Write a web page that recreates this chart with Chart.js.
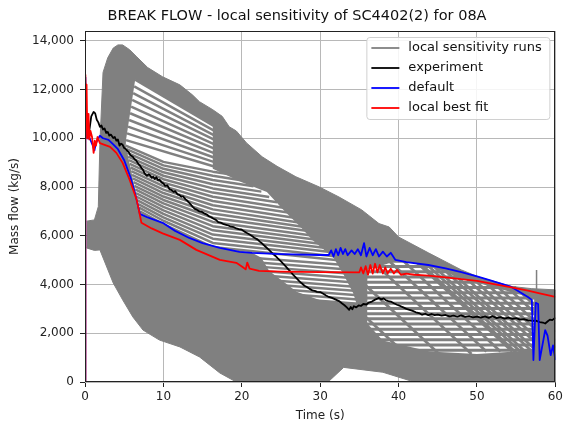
<!DOCTYPE html>
<html><head><meta charset="utf-8">
<script src="https://cdn.jsdelivr.net/npm/chart.js@4.4.0/dist/chart.umd.min.js"></script>
<style>html,body{margin:0;padding:0;background:#fff;}canvas{display:block;}</style>
</head><body>
<canvas id="c" width="566" height="430"></canvas>
<script>
// ---------- DATA ----------
const chartTitle = 'BREAK FLOW - local sensitivity of SC4402(2) for 08A';
const xTicks = [0, 10, 20, 30, 40, 50, 60];
const yTicks = [0, 2000, 4000, 6000, 8000, 10000, 12000, 14000];
const seriesNames = ['local sensitivity runs', 'experiment', 'default', 'local best fit'];

// envelope of the sensitivity runs (upper edge, then lower edge)
const runsUpper = [[0.2,6600],[1.2,6650],[1.7,7200],[1.9,9800],[2.3,12700],[2.9,13300],[3.6,13700],[4.2,13830],[4.8,13830],[5.7,13630],[6.6,13340],[8,12900],[9.9,12520],[12.1,12190],[13.7,11780],[14.6,11500],[16.3,11170],[17.5,10900],[18.4,10470],[19.3,10300],[20.6,9810],[22.6,9240],[24.5,8850],[26.9,8420],[29.9,8000],[32.4,7590],[35.3,7060],[37.5,6500],[38.8,6360],[40,5950],[43.8,5300],[48,4600],[50.2,4310],[54.4,3920],[57,3830],[60,3780]];
const runsLower = [[0.2,5500],[1.2,5400],[1.9,5420],[3.6,4060],[4.8,3370],[6.1,2670],[7.4,2130],[9.5,1720],[12.1,1440],[14.6,1030],[17.2,370],[19.3,0],[31,0],[33,600],[38,400],[42,0],[60,0]];

// open (unfilled) part of the run bundle where individual runs are separated
const runsGapTop = [[6.4,12400],[16.3,10525]];
const runsGapRight = [[16.3,8750],[20,8200],[23.2,7800],[25.5,7000],[27.5,6360],[29,5830],[31.7,5100],[33,4400],[34.2,3650],[34.6,3250]];
const runsGapBottom = [[30,3350],[27,3700],[25,4200],[23.5,4550],[22.5,5100],[21.3,5300],[17.2,5500],[13.3,5910],[9.9,6530],[7.0,6900]];
const runsGapLeft = [[7.0,7000],[5.2,9700],[5.23,9925]];

// individual runs visible in the open part (upper fan)
const runsFanA = [
 [[6.4,12400],[16.8,10430]],
 [[6.27,12125],[16.8,10250]],
 [[6.14,11850],[16.8,10070]],
 [[6.01,11575],[16.8,9890]],
 [[5.88,11300],[16.8,9710]],
 [[5.75,11025],[16.8,9530]],
 [[5.62,10750],[16.8,9350]],
 [[5.49,10475],[16.8,9170]],
 [[5.36,10200],[16.8,8990]],
 [[5.23,9925],[16.8,8810]]
];
// runs in the middle of the open part
const runsFanB = [
 [[5.2,9700],[10,9030],[16.3,8630],[19.5,8470]],
 [[5.3,9550],[10,8888],[16.3,8458],[20.5,8250]],
 [[5.4,9400],[10,8746],[16.3,8286],[21.5,8030]],
 [[5.5,9250],[10,8604],[16.3,8114],[22.5,7810]],
 [[5.6,9100],[10,8462],[16.3,7942],[23.5,7590]],
 [[5.7,8950],[10,8320],[16.3,7770],[24.5,7370]],
 [[5.8,8800],[10,8178],[16.3,7598],[25.5,7140]],
 [[5.9,8650],[10,8036],[16.3,7426],[26.5,6920]],
 [[6.0,8500],[10,7894],[16.3,7254],[27.5,6700]],
 [[6.1,8350],[10,7752],[16.3,7082],[28.5,6480]],
 [[6.2,8200],[10,7610],[16.3,6910],[29.5,6290]],
 [[6.3,8050],[10,7468],[16.3,6738],[30.5,6100]],
 [[6.4,7900],[10,7326],[16.3,6566],[31.5,5900]],
 [[6.5,7750],[10,7184],[16.3,6394],[32.5,5710]],
 [[6.6,7600],[10,7042],[16.3,6222],[33.5,5530]],
 [[6.7,7450],[10,6900],[16.3,6050],[34.5,5350]],
 [[6.8,7300],[10,6758],[16.3,5878],[35,5200]],
 [[6.9,7150],[10,6616],[16.3,5706],[35,5050]],
 [[7.0,7000],[10,6474],[16.3,5534],[35,4900]]
];
// lower runs visible below the default curve
const runsFanC = [
 [[18,5180],[36,4730]],
 [[18,5008],[36,4558]],
 [[18,4836],[36,4386]],
 [[18,4664],[36,4214]],
 [[18,4492],[36,4042]],
 [[18,4320],[36,3870]],
 [[18,4148],[36,3698]],
 [[18,3976],[36,3526]],
 [[18,3804],[36,3354]],
 [[18,3632],[36,3182]],
 [[18,3460],[36,3010]]
];
// late-time region where runs cross each other (mesh)
const runsMeshArea = [[36,4600],[40,5000],[44,4750],[48,4250],[52,3900],[56,3550],[57.3,3400],[57.3,1300],[50,1150],[44,1250],[38,1700],[36,2400]];
const runsMeshFlat = [
 [[35,1300],[58.3,1300]],[[35,1515],[58.3,1515]],[[35,1730],[58.3,1730]],[[35,1945],[58.3,1945]],
 [[35,2160],[58.3,2160]],[[35,2375],[58.3,2375]],[[35,2590],[58.3,2590]],[[35,2805],[58.3,2805]],
 [[35,3020],[58.3,3020]],[[35,3235],[58.3,3235]],[[35,3450],[58.3,3450]],[[35,3665],[58.3,3665]],
 [[35,3880],[55,3880]],[[35,4095],[51.6,4095]],[[35,4310],[49.5,4310]],[[35,4525],[47.8,4525]],
 [[35,4740],[46.5,4740]],[[35,4955],[45.2,4955]],[[35,5170],[44,5170]],[[35,5385],[42.8,5385]]
];
const runsMeshSteep = [
 [[34.5,5600],[49.3,1150]],[[36,5800],[51.2,1250]],[[37.5,5900],[53,1250]],[[39,5900],[54.5,1250]],
 [[40.5,5550],[55,1200]],[[42,5300],[55.7,1200]],[[43.5,5050],[56.3,1200]],[[45,4850],[57.2,1200]],
 [[46.5,4600],[58.2,1100]],[[48,4450],[59,1150]],[[49.5,4250],[59.8,1150]],[[51,4100],[60,1400]],
 [[52.5,3950],[60,1700]],[[54,3850],[60,2050]],[[55.5,3700],[60,2350]],
 [[35,4200],[45,1200]],[[35,2900],[40.7,1200]]
];
const runsSpike = [[57.6,3700],[57.6,4600]];

const experiment = [[0.5,10200],[0.8,10900],[1.1,11080],[1.3,11020],[1.5,10760],[1.7,10650],[1.9,10470],[2.1,10520],[2.3,10360],[2.5,10400],[2.7,10220],[2.9,10260],[3.1,10110],[3.3,10150],[3.6,10010],[3.8,10050],[4.0,9900],[4.2,9950],[4.4,9700],[4.6,9780],[4.8,9730],[5.0,9600],[5.2,9560],[5.4,9480],[5.6,9420],[5.8,9300],[6.1,9240],[6.3,9150],[6.5,9100],[6.8,8950],[7.0,8880],[7.2,8780],[7.4,8700],[7.6,8560],[7.9,8460],[8.1,8520],[8.3,8480],[8.5,8380],[8.7,8420],[8.9,8330],[9.1,8400],[9.3,8280],[9.5,8300],[9.8,8180],[10.0,8150],[10.2,8050],[10.5,8070],[10.8,7900],[11.0,7880],[11.3,7800],[11.5,7830],[11.8,7700],[12.0,7680],[12.3,7600],[12.5,7620],[12.8,7500],[13.0,7450],[13.3,7350],[13.5,7280],[13.7,7200],[14.0,7100],[14.3,7060],[14.6,7000],[14.9,6980],[15.2,6920],[15.5,6880],[15.8,6800],[16.1,6760],[16.4,6700],[16.7,6650],[17.0,6560],[17.3,6540],[17.6,6490],[18.0,6450],[18.3,6420],[18.6,6370],[19.0,6350],[19.3,6300],[19.6,6270],[20.0,6250],[20.3,6180],[20.6,6120],[21.0,6050],[21.3,5990],[21.6,5920],[22.0,5850],[22.3,5760],[22.6,5680],[23.0,5560],[23.3,5470],[23.6,5380],[24.0,5250],[24.3,5170],[24.6,5070],[25.0,4950],[25.3,4850],[25.6,4740],[26.0,4600],[26.3,4500],[26.6,4380],[27.0,4250],[27.3,4150],[27.6,4060],[28.0,3950],[28.3,3900],[28.6,3830],[29.0,3760],[29.3,3740],[29.6,3700],[30.0,3690],[30.4,3620],[30.7,3560],[31.1,3490],[31.5,3450],[32.0,3380],[32.4,3320],[32.8,3220],[33.1,3150],[33.4,3060],[33.7,2960],[33.9,3080],[34.1,2980],[34.3,3110],[34.6,3060],[34.9,3140],[35.2,3120],[35.5,3200],[35.9,3180],[36.2,3260],[36.6,3300],[37.0,3380],[37.3,3420],[37.5,3450],[37.8,3390],[38.1,3430],[38.4,3350],[38.7,3320],[39.0,3300],[39.4,3230],[39.8,3170],[40.2,3120],[40.6,3060],[41.0,3000],[41.4,2960],[41.8,2920],[42.2,2860],[42.6,2830],[43.0,2760],[43.4,2800],[43.8,2740],[44.2,2790],[44.6,2740],[45.0,2760],[45.5,2720],[46.0,2750],[46.5,2690],[47.0,2720],[47.5,2680],[48.0,2730],[48.5,2670],[49.0,2700],[49.5,2650],[50.0,2680],[50.5,2640],[51.0,2690],[51.5,2630],[52.0,2700],[52.5,2620],[53.0,2660],[53.5,2600],[54.0,2640],[54.5,2590],[55.0,2620],[55.5,2560],[56.0,2580],[56.5,2530],[57.0,2510],[57.5,2520],[58.0,2460],[58.4,2440],[58.7,2400],[59.0,2480],[59.3,2560],[59.6,2540],[60.0,2640]];

const defaultRun = [[0,0],[0.05,12500],[0.15,10400],[0.3,10000],[0.6,10000],[1.0,9700],[1.2,9500],[1.4,9800],[1.7,10000],[1.9,10100],[2.3,10000],[3.0,9930],[3.6,9750],[4.2,9550],[5.0,9100],[5.8,8400],[6.5,7600],[7.0,6900],[8.0,6750],[9.9,6530],[11.5,6200],[13.3,5910],[15,5700],[17.2,5500],[19.7,5340],[21.3,5300],[25,5250],[29.9,5210],[31.1,5210],[31.4,5400],[31.7,5150],[32,5450],[32.3,5200],[32.6,5500],[32.9,5250],[33.2,5450],[33.5,5200],[34,5400],[34.4,5250],[34.8,5450],[35.2,5200],[35.6,5700],[35.9,5150],[36.3,5500],[36.7,5200],[37.1,5450],[37.5,5150],[38,5350],[38.5,5150],[39,5300],[39.6,5010],[41,4920],[43.8,4800],[46,4660],[48,4510],[50,4330],[51.5,4190],[54.4,3900],[56.5,3490],[57,3370],[57.2,900],[57.5,3250],[57.8,3200],[58.0,900],[58.7,2130],[59.0,1900],[59.4,1100],[59.7,1500],[60,900]];

const bestFit = [[0,0],[0.05,12600],[0.15,10500],[0.2,12200],[0.3,10000],[0.45,11000],[0.55,9950],[0.7,10300],[0.9,10050],[1.1,9400],[1.25,9900],[1.4,9700],[1.6,10050],[1.9,9800],[2.5,9730],[3.2,9650],[4.0,9400],[4.8,8990],[5.7,8290],[6.6,7470],[7.2,6530],[8.5,6300],[9.9,6100],[12.1,5830],[14.2,5420],[17.2,5010],[19.3,4890],[20.1,4720],[20.5,4620],[20.7,4900],[21.0,4650],[22.2,4560],[25,4530],[30,4510],[35,4500],[35.2,4700],[35.5,4450],[35.8,4750],[36.1,4400],[36.4,4800],[36.7,4450],[37,4850],[37.3,4500],[37.6,4800],[38,4450],[38.3,4700],[38.6,4450],[39,4650],[39.4,4450],[39.8,4600],[40.3,4400],[41,4450],[42,4400],[43.8,4360],[46,4290],[48,4220],[50,4150],[52,4030],[54.4,3880],[56.5,3750],[58,3640],[60,3490]];

// ---------- BUILD ----------
const GRAY = '#808080';
const pts = a => a.map(p => ({x: p[0], y: p[1]}));
const datasets = [];
const lineDs = (label, arr, color, width, order, legend) => ({
  label, data: pts(arr), borderColor: color, backgroundColor: color, borderWidth: width,
  pointRadius: 0, fill: false, order, showInLegend: !!legend, borderJoinStyle: 'round'
});
const shapeDs = (arr, color, order) => ({label: '', data: pts(arr), borderColor: 'rgba(0,0,0,0)', backgroundColor: color,
  borderWidth: 1, pointRadius: 0, fill: 'shape', order, showInLegend: false});

datasets.push(lineDs(seriesNames[3], bestFit, '#ff0000', 1.8, 0, true));
datasets.push(lineDs(seriesNames[2], defaultRun, '#0000ff', 1.8, 1, true));
datasets.push(lineDs(seriesNames[1], experiment, '#000000', 1.8, 2, true));
datasets.push(lineDs(seriesNames[0], runsSpike, GRAY, 1.5, 3, true));
[...runsFanA, ...runsFanB, ...runsFanC].forEach(r => datasets.push(lineDs('', r, GRAY, 2.5, 4, false)));
runsMeshFlat.forEach(r => datasets.push(lineDs('', r, GRAY, 3.0, 4, false)));
runsMeshSteep.forEach(r => datasets.push(lineDs('', r, GRAY, 2.8, 4, false)));
datasets.push(shapeDs([...runsGapTop, ...runsGapRight, ...runsGapBottom, ...runsGapLeft], '#ffffff', 5));
datasets.push(shapeDs(runsMeshArea, '#ffffff', 5));
const massShape = [...runsUpper, ...runsLower.slice().reverse()];
datasets.push({label: '', data: pts(massShape), borderColor: GRAY, backgroundColor: GRAY,
  borderWidth: 1, pointRadius: 0, fill: 'shape', order: 6, showInLegend: false});

const FONT = 'DejaVu Sans';
Chart.defaults.font.family = FONT;

const titlePlugin = {
  id: 'mplTitle',
  afterDraw(chart) {
    const ctx = chart.ctx;
    ctx.save();
    ctx.font = '14.5px "' + FONT + '"';
    ctx.fillStyle = '#111';
    ctx.textAlign = 'center';
    ctx.textBaseline = 'middle';
    ctx.fillText(chartTitle, 297, 16);
    ctx.restore();
  }
};
const framePlugin = {
  id: 'mplFrameLegend',
  afterDraw(chart) {
    const ctx = chart.ctx, a = chart.chartArea;
    ctx.save();
    ctx.strokeStyle = '#222';
    ctx.lineWidth = 1;
    ctx.strokeRect(Math.round(a.left) + 0.5, Math.round(a.top) + 0.5, Math.round(a.right - a.left) - 1, Math.round(a.bottom - a.top) - 1);
    const items = chart.data.datasets.filter(d => d.showInLegend);
    const order = seriesNames.map(n => items.find(d => d.label === n)).filter(Boolean);
    const bx = a.right - 6 - 183, by = a.top + 6, bw = 183, bh = 82;
    ctx.beginPath();
    if (ctx.roundRect) ctx.roundRect(bx + 0.5, by + 0.5, bw, bh, 3); else ctx.rect(bx + 0.5, by + 0.5, bw, bh);
    ctx.fillStyle = 'rgba(255,255,255,0.85)';
    ctx.fill();
    ctx.strokeStyle = '#d0d0d0';
    ctx.stroke();
    ctx.font = '13px "' + FONT + '"';
    ctx.textBaseline = 'middle';
    ctx.textAlign = 'left';
    order.forEach((d, i) => {
      const y = by + 11 + i * 20;
      ctx.beginPath();
      ctx.strokeStyle = d.borderColor;
      ctx.lineWidth = 1.8;
      ctx.moveTo(bx + 5, y); ctx.lineTo(bx + 33, y);
      ctx.stroke();
      ctx.fillStyle = '#111';
      ctx.fillText(d.label, bx + 42, y);
    });
    ctx.restore();
  }
};

new Chart(document.getElementById('c'), {
  type: 'line',
  data: {datasets},
  options: {
    responsive: false, animation: false, devicePixelRatio: 1,
    layout: {padding: {top: 31, right: 9, left: 0, bottom: 0}},
    elements: {line: {tension: 0}},
    plugins: {legend: {display: false}, title: {display: false}, tooltip: {enabled: false}},
    scales: {
      x: {
        type: 'linear', min: 0, max: 60, z: 1,
        afterFit: s => { s.height = 48; },
        afterBuildTicks: s => { s.ticks = xTicks.map(v => ({value: v})); },
        ticks: {color: '#222', font: {size: 12}, padding: 3, maxRotation: 0, autoSkip: false},
        grid: {color: '#b8b8b8', lineWidth: 1, tickLength: 5, tickColor: '#222', tickWidth: 1},
        border: {display: false},
        title: {display: true, text: 'Time (s)', color: '#222', font: {size: 12}, padding: {top: 0, bottom: 7}}
      },
      y: {
        type: 'linear', min: 0, max: 14400, z: 1,
        afterFit: s => { s.width = 85; },
        afterBuildTicks: s => { s.ticks = yTicks.map(v => ({value: v})); },
        ticks: {color: '#222', font: {size: 12}, padding: 6, autoSkip: false,
          callback: v => v.toLocaleString('en-US')},
        grid: {color: '#b8b8b8', lineWidth: 1, tickLength: 5, tickColor: '#222', tickWidth: 1},
        border: {display: false},
        title: {display: true, text: 'Mass flow (kg/s)', color: '#222', font: {size: 12}, padding: {top: 8, bottom: 0}}
      }
    }
  },
  plugins: [titlePlugin, framePlugin]
});
</script>
</body></html>
